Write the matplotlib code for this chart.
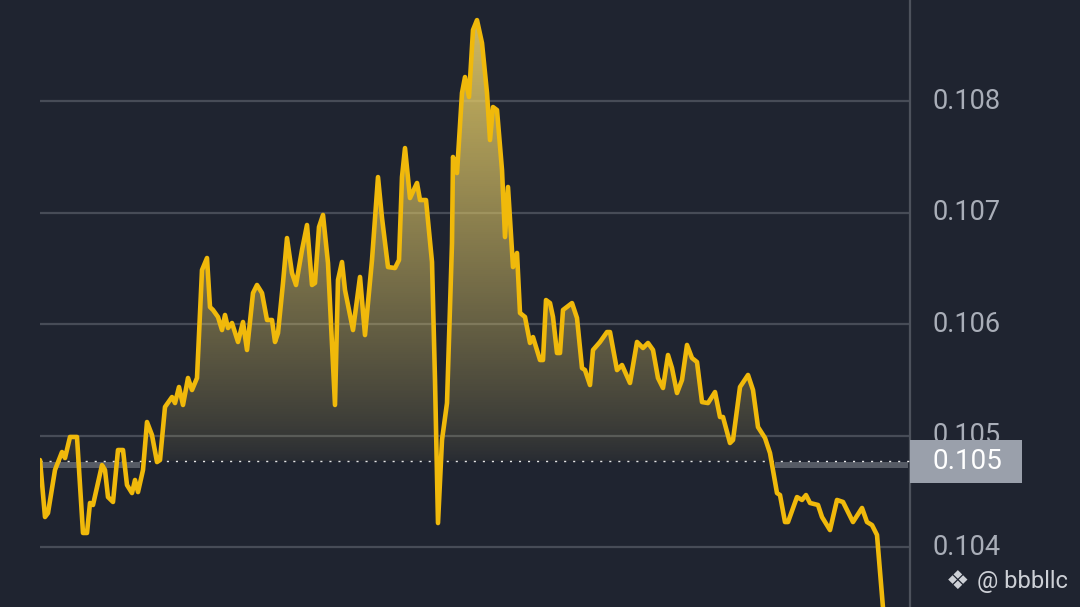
import numpy as np
import matplotlib
matplotlib.use("Agg")
import matplotlib.pyplot as plt
from matplotlib.path import Path
from matplotlib.patches import PathPatch, Rectangle

plt.rcParams["font.family"] = ["Roboto", "DejaVu Sans"]

# -----------------------------
# data: minutes from start, price
# -----------------------------
minutes = [
    0, 5, 8, 15, 22, 25, 30, 37, 43, 47,
    50, 53, 62, 65, 68, 73, 78, 83, 87, 92,
    95, 98, 103, 107, 112, 117, 120, 125, 132, 135,
    139, 143, 148, 152, 157, 162, 167, 170, 173, 178,
    182, 185, 188, 192, 198, 203, 207, 213, 217, 222,
    227, 232, 235, 238, 243, 247, 252, 256, 262, 267,
    272, 275, 279, 283, 288, 295, 298, 302, 305, 313,
    320, 325, 332, 338, 342, 348, 355, 359, 362, 365,
    370, 377, 380, 386, 392, 395, 398, 402, 407, 412,
    413, 417, 422, 425, 429, 433, 437, 442, 447, 450,
    453, 457, 462, 465, 468, 473, 477, 480, 485, 490,
    493, 500, 503, 506, 510, 513, 517, 520, 523, 532,
    537, 542, 545, 550, 553, 560, 567, 570, 577, 582,
    590, 597, 603, 608, 613, 618, 623, 628, 632, 637,
    642, 647, 652, 657, 662, 668, 675, 680, 683, 690,
    693, 700, 708, 713, 718, 725, 730, 737, 740, 745,
    748, 757, 762, 766, 770, 778, 782, 790, 797, 803,
    808, 813, 822, 827, 832, 837, 844,
]
price = [
    0.104780, 0.104269, 0.104305, 0.104691, 0.104852, 0.104798, 0.104987, 0.104987, 0.104126, 0.104126,
    0.104395, 0.104377, 0.104735, 0.104691, 0.104448, 0.104404, 0.104870, 0.104870, 0.104556, 0.104484,
    0.104601, 0.104493, 0.104691, 0.105121, 0.105004, 0.104762, 0.104780, 0.105256, 0.105345, 0.105291,
    0.105435, 0.105274, 0.105516, 0.105408, 0.105516, 0.106484, 0.106592, 0.106152, 0.106126, 0.106063,
    0.105946, 0.106081, 0.105964, 0.106009, 0.105839, 0.106018, 0.105767, 0.106278, 0.106350, 0.106278,
    0.106036, 0.106036, 0.105839, 0.105919, 0.106368, 0.106771, 0.106457, 0.106350, 0.106664, 0.106888,
    0.106350, 0.106368, 0.106870, 0.106978, 0.106547, 0.105274, 0.106395, 0.106556, 0.106305, 0.105946,
    0.106422, 0.105901, 0.106574, 0.107318, 0.106951, 0.106511, 0.106502, 0.106574, 0.107318, 0.107578,
    0.107130, 0.107265, 0.107112, 0.107112, 0.106556, 0.105498, 0.104215, 0.104960, 0.105291, 0.106726,
    0.107498, 0.107354, 0.108072, 0.108215, 0.108036, 0.108637, 0.108726, 0.108520, 0.108072, 0.107650,
    0.107946, 0.107919, 0.107381, 0.106780, 0.107229, 0.106511, 0.106637, 0.106099, 0.106063, 0.105830,
    0.105883, 0.105677, 0.105677, 0.106215, 0.106188, 0.106063, 0.105740, 0.105740, 0.106126, 0.106188,
    0.106054, 0.105605, 0.105587, 0.105453, 0.105767, 0.105839, 0.105928, 0.105928, 0.105587, 0.105632,
    0.105471, 0.105839, 0.105785, 0.105830, 0.105767, 0.105516, 0.105426, 0.105722, 0.105605, 0.105381,
    0.105498, 0.105812, 0.105695, 0.105659, 0.105300, 0.105291, 0.105390, 0.105166, 0.105166, 0.104933,
    0.104960, 0.105435, 0.105543, 0.105408, 0.105076, 0.104978, 0.104843, 0.104484, 0.104466, 0.104224,
    0.104224, 0.104448, 0.104422, 0.104466, 0.104395, 0.104377, 0.104269, 0.104152, 0.104422, 0.104404,
    0.104314, 0.104224, 0.104350, 0.104224, 0.104197, 0.104108, 0.103345,
]

base_price = 0.10477          # reference price (dotted line)
y_ticks = [0.104, 0.105, 0.106, 0.107, 0.108]
band_spans = [(0, 100), (735, 868)]   # grey bar under the reference line
watermark = "\u2756 @ bbbllc"

# -----------------------------
# style
# -----------------------------
BG = "#1f2430"
GRID = "#474c57"
YELLOW = "#f0b90b"
TXT = "#a9aeb8"

t = np.array(minutes, dtype=float)
p = np.array(price)

fig = plt.figure(figsize=(10.8, 6.07), dpi=100, facecolor=BG)
ax = fig.add_axes([40 / 1080, 0, 870 / 1080, 1])
ax.set_facecolor(BG)

ymin, ymax = 0.103462, 0.108906
ax.set_xlim(0, 870)
ax.set_ylim(ymin, ymax)

# grid
for yt in y_ticks:
    ax.axhline(yt, color=GRID, lw=1.6, zorder=1)

# grey bar just below the reference line
for a, b in band_spans:
    ax.fill_between([a, b], base_price - 0.000065, base_price - 0.000005,
                    color="#5d626b", alpha=0.9, lw=0, zorder=2)

# gradient fill above the reference line
poly = ax.fill_between(t, p, base_price, where=p > base_price, interpolate=True,
                       color="none", lw=0)
clip = Path.make_compound_path(*poly.get_paths())
patch = PathPatch(clip, transform=ax.transData, facecolor="none", edgecolor="none")
ax.add_patch(patch)

top = 0.10885
ny = 300
yy = np.linspace(base_price, top, ny)
frac = (yy - base_price) / (top - base_price)
grad = np.zeros((ny, 2, 4))
grad[..., 0] = 0.89
grad[..., 1] = 0.79
grad[..., 2] = 0.40
grad[..., 3] = (0.05 + 0.88 * frac ** 0.85)[:, None]
im = ax.imshow(grad, extent=[0, 870, base_price, top], origin="lower",
               aspect="auto", zorder=3, interpolation="bilinear")
im.set_clip_path(patch)

# reference line (dotted)
ax.axhline(base_price, color="#e8e8e8", lw=1.0, ls=(0, (1.5, 5)), zorder=4)

# price line
ax.plot(t, p, color=YELLOW, lw=3.3, solid_joinstyle="round",
        solid_capstyle="round", zorder=5)

# axis frame
for s in ["top", "left", "bottom"]:
    ax.spines[s].set_visible(False)
ax.spines["right"].set_color("#4d525c")
ax.spines["right"].set_linewidth(1.6)
ax.set_xticks([])
ax.set_yticks([])

# right side price labels
for yt in y_ticks:
    ax.text(892, yt, f"{yt:.3f}", color=TXT, fontsize=19.5, va="center",
            ha="left", clip_on=False, zorder=6)

# current reference label box
box_h = 0.000386
ax.add_patch(Rectangle((870, base_price - box_h / 2), 112, box_h,
                       facecolor="#9aa0ab", edgecolor="none",
                       clip_on=False, zorder=7))
ax.text(892, base_price, f"{base_price:.3f}", color="white", fontsize=20,
        va="center", ha="left", clip_on=False, zorder=8)

# watermark
fig.text(0.876, 0.042, "\u2756", color="#cdd0d6", fontsize=19,
         ha="left", va="center", family=["DejaVu Sans"])
fig.text(0.905, 0.042, watermark.split(" ", 1)[1], color="#cdd0d6", fontsize=17,
         ha="left", va="center")

fig.savefig("out.png", dpi=100, facecolor=BG)
